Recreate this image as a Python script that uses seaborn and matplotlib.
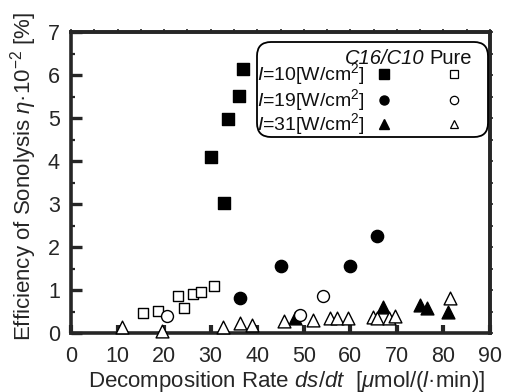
import matplotlib
matplotlib.use("Agg")
import matplotlib.pyplot as plt
from matplotlib.ticker import MultipleLocator
from matplotlib.patches import FancyBboxPatch
import seaborn as sns
import pandas as pd

# --- data: decomposition rate ds/dt [umol/(l*min)] vs sonolysis efficiency [x10^-2 %]
mix_i10_x = [36.9, 36.1, 33.7, 30.1, 32.9]
mix_i10_y = [6.14, 5.51, 4.98, 4.09, 3.02]

mix_i19_x = [36.3, 45.0, 60.0, 65.8]
mix_i19_y = [0.82, 1.55, 1.55, 2.25]

mix_i31_x = [48.1, 67.0, 75.0, 76.4, 81.0]
mix_i31_y = [0.35, 0.61, 0.66, 0.59, 0.50]

pure_i10_x = [15.5, 18.7, 23.0, 24.3, 26.2, 27.9, 30.7]
pure_i10_y = [0.46, 0.51, 0.86, 0.58, 0.91, 0.95, 1.09]

pure_i19_x = [20.6, 49.2, 54.1]
pure_i19_y = [0.40, 0.42, 0.86]

pure_i31_x = [10.9, 19.5, 32.7, 36.3, 38.8, 45.8, 52.0, 55.6, 57.1, 59.5,
              64.9, 65.7, 68.3, 69.6, 81.4]
pure_i31_y = [0.14, 0.05, 0.14, 0.23, 0.19, 0.29, 0.30, 0.35, 0.35, 0.35,
              0.37, 0.35, 0.35, 0.40, 0.81]

x_ticks = [0, 10, 20, 30, 40, 50, 60, 70, 80, 90]
y_ticks = [0, 1, 2, 3, 4, 5, 6, 7]

sns.set_style("ticks")
plt.rcParams["font.family"] = ["Liberation Sans", "DejaVu Sans"]
plt.rcParams["mathtext.fontset"] = "custom"
plt.rcParams["mathtext.rm"] = "Liberation Sans"
plt.rcParams["mathtext.it"] = "Liberation Sans:italic"
plt.rcParams["mathtext.bf"] = "Liberation Sans:bold"
plt.rcParams["text.color"] = "#111111"

fig = plt.figure(figsize=(5.09, 3.92), dpi=100)
ax = fig.add_axes([71 / 509, 1 - 333 / 392, 419 / 509, 301 / 392])

series = [
    # (x, y, marker, face, size, zorder)
    (mix_i31_x, mix_i31_y, "^", "black", 85, 3),
    (pure_i31_x, pure_i31_y, "^", "white", 85, 4),
    (pure_i19_x, pure_i19_y, "o", "white", 74, 3.5),
    (pure_i10_x, pure_i10_y, "s", "white", 62, 3),
    (mix_i19_x, mix_i19_y, "o", "black", 78, 3),
    (mix_i10_x, mix_i10_y, "s", "black", 74, 3),
]
for xs, ys, mk, face, size, z in series:
    df = pd.DataFrame({"rate": xs, "eff": ys})
    sns.scatterplot(data=df, x="rate", y="eff", marker=mk, s=size,
                    color=face, edgecolor="black", linewidth=1.0,
                    ax=ax, legend=False, zorder=z, clip_on=False)

ax.set_xlim(0, 90)
ax.set_ylim(0, 7)
ax.set_xticks(x_ticks)
ax.set_yticks(y_ticks)
ax.yaxis.set_minor_locator(MultipleLocator(0.5))

for sp in ax.spines.values():
    sp.set_linewidth(2.6)
    sp.set_visible(True)

ax.tick_params(axis="y", which="major", direction="in", length=8, width=2.4,
               labelsize=15.5, pad=8, right=False)
ax.tick_params(axis="y", which="minor", direction="in", length=3, width=1.6,
               right=False)
ax.tick_params(axis="x", which="major", direction="in", length=6, width=3,
               labelsize=15.5, pad=9, top=False)

# small outward ticks along the top and right frame
sec_top = ax.secondary_xaxis("top")
sec_top.xaxis.set_major_locator(MultipleLocator(5))
sec_top.tick_params(direction="out", length=2, width=1.2, labeltop=False)
sec_top.spines["top"].set_linewidth(2.6)
sec_right = ax.secondary_yaxis("right")
sec_right.yaxis.set_major_locator(MultipleLocator(0.5))
sec_right.tick_params(direction="out", length=2, width=1.2, labelright=False)
sec_right.spines["right"].set_linewidth(2.6)

ax.set_xlabel(r"Decomposition Rate $ds/dt$  [$\mu$mol/($l$·min)]", fontsize=16)
ax.set_ylabel(r"Efficiency of Sonolysis $\eta$·10$^{-2}$ [%]", fontsize=16)
ax.xaxis.set_label_coords(0.515, -0.118)
ax.yaxis.set_label_coords(-0.076, 0.52)

# key box with rounded corners
W, H = 419.0, 301.0
r = 14.0
box = FancyBboxPatch((186 / W, (333 - 137) / H), 231 / W, 95 / H,
                     boxstyle=f"round,pad=0,rounding_size={r / W}",
                     mutation_aspect=W / H, transform=ax.transAxes,
                     facecolor="white", edgecolor="black", linewidth=1.3,
                     zorder=6, clip_on=False)
ax.add_patch(box)

def ax_xy(px, py):
    return (px - 71) / W, (333 - py) / H

tx, ty = ax_xy(385, 58)
ax.text(tx, ty, "C16/C10", style="italic", fontsize=14.5, ha="center",
        va="center", transform=ax.transAxes, zorder=7)
tx, ty = ax_xy(451, 58)
ax.text(tx, ty, "Pure", fontsize=14.5, ha="center", va="center",
        transform=ax.transAxes, zorder=7)

rows = [(r"$I$=10[W/cm$^2$]", "s", 74),
        (r"$I$=19[W/cm$^2$]", "o", 100),
        (r"$I$=31[W/cm$^2$]", "^", 124)]
for label, mk, py in rows:
    tx, ty = ax_xy(257, py)
    ax.text(tx, ty, label, fontsize=14, ha="left", va="center",
            transform=ax.transAxes, zorder=7)
    mx, my = ax_xy(384, py)
    ax.plot([mx], [my], marker=mk, ms=6.5, mfc="black", mec="black",
            transform=ax.transAxes, zorder=7, clip_on=False)
    mx, my = ax_xy(454, py)
    ax.plot([mx], [my], marker=mk, ms=6, mfc="white", mec="black", mew=0.9,
            transform=ax.transAxes, zorder=7, clip_on=False)

fig.savefig("out.png", dpi=100)
